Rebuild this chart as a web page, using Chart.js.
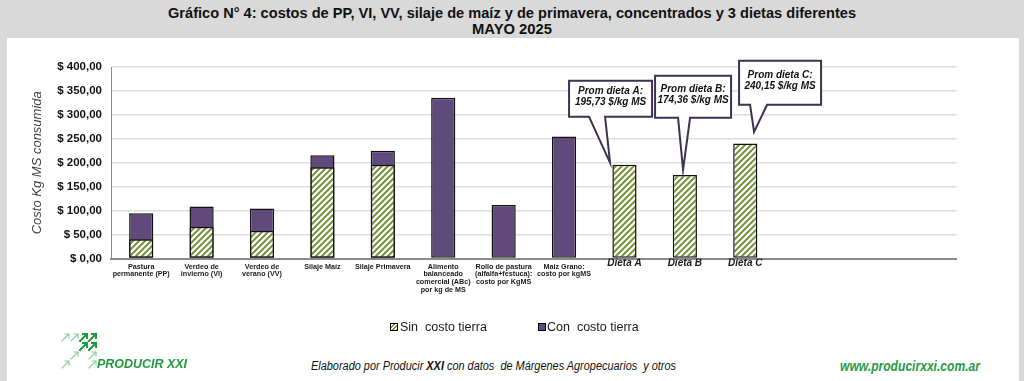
<!DOCTYPE html>
<html><head><meta charset="utf-8">
<script src="https://cdn.jsdelivr.net/npm/chart.js@4/dist/chart.umd.min.js"></script>
<style>
html,body{margin:0;padding:0;}
body{width:1024px;height:381px;background:#d9d9d9;position:relative;overflow:hidden;font-family:"Liberation Sans",Arial,sans-serif;color:#111;}
#panel{position:absolute;left:7px;top:38px;width:1012px;height:343px;background:#fff;}
#wrap{position:absolute;left:0;top:38px;width:1024px;height:302px;}
.fit{position:absolute;white-space:nowrap;transform-origin:left center;line-height:16px;}
.sw{position:absolute;width:6px;height:6px;border:1px solid #000;}
.lg{position:absolute;font-size:12.5px;line-height:16px;color:#1a1a1a;white-space:nowrap;}
</style></head>
<body>
<div id="panel"></div>
<div class="fit" data-w="688" style="left:168px;top:5px;font-size:15px;font-weight:bold;">Gráfico N° 4: costos de PP, VI, VV, silaje de maíz y de primavera, concentrados y 3 dietas diferentes</div>
<div class="fit" data-w="80" style="left:472px;top:21px;font-size:15px;font-weight:bold;">MAYO 2025</div>
<div id="wrap"><canvas id="c" width="1024" height="302"></canvas></div>

<div class="sw" style="left:390px;top:323px;background:repeating-linear-gradient(135deg,#fff 0 1.5px,#77933C 1.5px 3px);"></div>
<div class="lg" style="left:400px;top:319px;">Sin&nbsp; costo tierra</div>
<div class="sw" style="left:538px;top:323px;background:#604A7B;"></div>
<div class="lg" style="left:547px;top:319px;">Con&nbsp; costo tierra</div>

<svg style="position:absolute;left:60px;top:331px" width="40" height="40" viewBox="0 0 40 40">
  <g fill="none" stroke-linecap="square">
    <g stroke="#8fcf9b" stroke-width="1.2">
      <path d="M2 10 L9 3 M5 3 L9 3 L9 7"/>
      <path d="M11 10 L18 3 M14 3 L18 3 L18 7"/>
      <path d="M11 28 L18 21 M14 21 L18 21 L18 25"/>
      <path d="M2 37 L9 30 M5 30 L9 30 L9 34"/>
      <path d="M29 37 L36 30 M32 30 L36 30 L36 34"/>
      <path d="M29 28 L36 21 M32 21 L36 21 L36 25"/>
    </g>
    <g stroke="#1f9a3e" stroke-width="2">
      <path d="M20 10 L27 3 M23 3 L27 3 L27 7"/>
      <path d="M29 10 L36 3 M32 3 L36 3 L36 7"/>
      <path d="M29 19 L36 12 M32 12 L36 12 L36 16"/>
      <path d="M20 19 L27 12 M23 12 L27 12 L27 16"/>
    </g>
  </g>
</svg>
<div class="fit" data-w="90" style="left:97px;top:356px;font-size:13px;font-weight:bold;font-style:italic;color:#1f9a3e;">PRODUCIR XXI</div>
<div class="fit" data-w="365" style="left:311px;top:358px;font-size:12px;font-style:italic;color:#111;">Elaborado por Producir <b>XXI</b> con datos&nbsp; de Márgenes Agropecuarios&nbsp; y otros</div>
<div class="fit" data-w="140" style="left:840px;top:358px;font-size:14px;font-weight:bold;font-style:italic;color:#2a9a44;">www.producirxxi.com.ar</div>

<script>
// ---- data ----
const categories = [
  ["Pastura","permanente (PP)"],
  ["Verdeo de","invierno (VI)"],
  ["Verdeo de","verano (VV)"],
  "Silaje Maíz",
  "Silaje Primavera",
  ["Alimento","balanceado","comercial (ABc)","por kg de MS"],
  ["Rollo de pastura","(alfalfa+festuca):","costo por KgMS"],
  ["Maiz Grano:","costo por kgMS"],
  "Dieta A","Dieta B","Dieta C",
  "","",""
];
const sinCostoTierra = [40.2, 66.5, 58.2, 190.8, 195.6, null, null, null, 195.73, 174.36, 240.15, null, null, null];
const conCostoTierra = [94.6, 108.4, 104.2, 215.9, 224.9, 335.8, 112.0, 254.8, null, null, null, null, null, null];
const promNames = ["Prom dieta A:", "Prom dieta B:", "Prom dieta C:"];
const promValues = [195.73, 174.36, 240.15];
const promCategories = ["Dieta A", "Dieta B", "Dieta C"];
const yMin = 0, yMax = 400, yStep = 50;

// ---- fit text widths ----
document.querySelectorAll('.fit').forEach(el => {
  const tw = parseFloat(el.dataset.w);
  const w = el.getBoundingClientRect().width;
  el.style.transform = 'scaleX(' + (tw / w) + ')';
});

const FAM = '"Liberation Sans", Arial, sans-serif';
const fmt = v => v.toFixed(2).replace('.', ',');

function makeHatch() {
  const c = document.createElement('canvas');
  c.width = 6; c.height = 6;
  const x = c.getContext('2d');
  x.fillStyle = '#fff'; x.fillRect(0, 0, 6, 6);
  x.strokeStyle = '#77933C'; x.lineWidth = 2;
  x.beginPath();
  x.moveTo(-1, 1); x.lineTo(1, -1);
  x.moveTo(-1, 7); x.lineTo(7, -1);
  x.moveTo(5, 7); x.lineTo(7, 5);
  x.stroke();
  return x.createPattern(c, 'repeat');
}

// callout geometry relative to bar centre / bar top (pixels)
const calloutGeom = [
  {dx:-55.4, dy:-84,  w:83, h:36, b1:-35.4, b2:-19.4, tx:-14.4, ty:-2},
  {dx:-29.8, dy:-99.2,w:76, h:42, b1:-6.8,  b2:5.2,   tx:-1.8,  ty:-5.2},
  {dx:-6.2,  dy:-82.7,w:82, h:44, b1:4.8,   b2:21.8,  tx:8.8,   ty:-11.7}
];

const calloutPlugin = {
  id: 'callouts',
  afterDatasetsDraw(chart) {
    const ctx = chart.ctx, xs = chart.scales.x, ys = chart.scales.y;
    promValues.forEach((v, k) => {
      const idx = categories.indexOf(promCategories[k]);
      const g = calloutGeom[k];
      const cx = xs.getPixelForValue(idx), ty = ys.getPixelForValue(v);
      const bx = cx + g.dx, by = ty + g.dy;
      ctx.save();
      ctx.beginPath();
      ctx.moveTo(bx, by);
      ctx.lineTo(bx + g.w, by);
      ctx.lineTo(bx + g.w, by + g.h);
      ctx.lineTo(cx + g.b2, by + g.h);
      ctx.lineTo(cx + g.tx, ty + g.ty);
      ctx.lineTo(cx + g.b1, by + g.h);
      ctx.lineTo(bx, by + g.h);
      ctx.closePath();
      ctx.fillStyle = '#fff';
      ctx.fill();
      ctx.lineWidth = 2;
      ctx.strokeStyle = '#3F3151';
      ctx.lineJoin = 'miter';
      ctx.stroke();
      ctx.fillStyle = '#111';
      ctx.font = 'italic bold 10px ' + FAM;
      ctx.textAlign = 'center';
      ctx.textBaseline = 'middle';
      const mx = bx + g.w / 2, my = by + g.h / 2 - 2;
      ctx.fillText(promNames[k], mx, my - 5.5);
      ctx.fillText(fmt(v) + ' $/kg MS', mx, my + 5.5);
      ctx.restore();
    });
  }
};

const hatch = makeHatch();

new Chart(document.getElementById('c'), {
  type: 'bar',
  data: {
    labels: categories,
    datasets: [
      {label:'Sin costo tierra', data: sinCostoTierra, backgroundColor: hatch, borderColor:'#111', borderWidth:1.5,
       borderSkipped:false, order:1, grouped:false, barPercentage:0.4, categoryPercentage:1},
      {label:'Con costo tierra', data: conCostoTierra, backgroundColor:'#604A7B', borderColor:'#111', borderWidth:1.5,
       borderSkipped:false, order:2, grouped:false, barPercentage:0.4, categoryPercentage:1}
    ]
  },
  options: {
    responsive:false, animation:false, devicePixelRatio:1,
    layout:{padding:{top:29, right:67.3, bottom:0, left:0}},
    plugins:{legend:{display:false}, tooltip:{enabled:false}, title:{display:false}},
    scales:{
      x:{
        grid:{display:false, drawTicks:false},
        border:{display:true, color:'#8a8a8a', width:2},
        afterFit(s){ s.height = 81.5; },
        ticks:{
          autoSkip:false, maxRotation:0, minRotation:0, padding:4.3, color:'#1a1a1a',
          font:(c)=>{
            const l = categories[c.index];
            if (typeof l === 'string' && l.startsWith('Dieta'))
              return {family:FAM, size:10, style:'italic', weight:'bold', lineHeight:0.09};
            return {family:FAM, size:7.2, weight:'bold', lineHeight:1.07};
          }
        }
      },
      y:{
        min:yMin, max:yMax,
        grid:{color:'#dedede', lineWidth:1.5, drawTicks:false},
        border:{display:true, color:'#8a8a8a', width:1},
        afterFit(s){ s.width = 111; },
        ticks:{stepSize:yStep, padding:9, color:'#111', font:{family:FAM, size:11.5, weight:'bold'},
               callback:(v)=>'$ ' + fmt(v)},
        title:{display:true, text:'Costo Kg MS consumida', color:'#404040',
               font:{family:FAM, size:13, style:'italic'}, padding:{top:30, bottom:0}}
      }
    }
  },
  plugins:[calloutPlugin]
});
</script>
</body></html>
